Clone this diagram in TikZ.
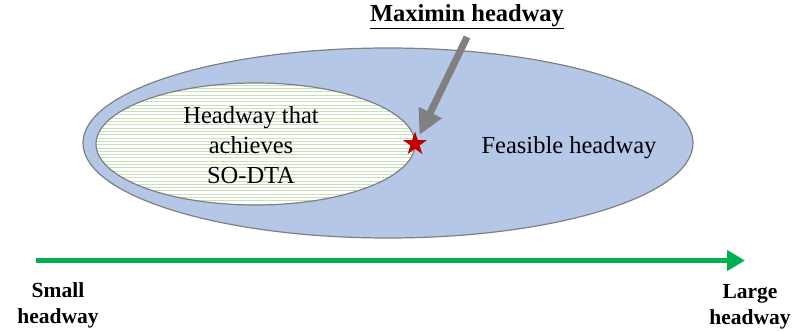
\documentclass[tikz,border=0pt]{standalone}
\usepackage{fontspec}
\setmainfont{Liberation Serif}
\usetikzlibrary{arrows.meta,shapes.geometric}

\definecolor{feasblue}{RGB}{180,199,231}
\definecolor{rimgray}{RGB}{128,128,128}
\definecolor{hatchgreen}{RGB}{200,226,184}
\definecolor{axisgreen}{RGB}{0,176,80}
\definecolor{starred}{RGB}{192,0,0}

\begin{document}
\begin{tikzpicture}[x=1pt,y=1pt]

\tikzset{region/.style = {draw=rimgray,line width=1.2pt}}
\tikzset{hatch/.style = {draw=hatchgreen,line width=0.8pt}}
\tikzset{lbl/.style = {font=\fontsize{24.5}{30}\selectfont,align=center,inner sep=0pt}}
\tikzset{endlbl/.style = {font=\bfseries\fontsize{21.5}{26}\selectfont,align=center,inner sep=0pt}}
\tikzset{ptr/.style = {-{Triangle[length=25pt,width=24pt]},line width=7pt,draw=rimgray}}
\tikzset{axis/.style = {-{Triangle[length=18pt,width=20pt]},line width=5pt,draw=axisgreen}}
\useasboundingbox (0,0) rectangle (793,330);

% regions
\path[region,fill=feasblue] (388,187) ellipse [x radius=305,y radius=95];
\fill[white] (255.5,186) ellipse [x radius=159.5,y radius=61];
\begin{scope}
\clip (255.5,186) ellipse [x radius=159.5,y radius=61];
\foreach \y in {126,129.3,...,248}
  \draw[hatch] (90,\y) -- (420,\y);
\end{scope}
\draw[region] (255.5,186) ellipse [x radius=159.5,y radius=61];

% labels
\node[lbl] (soset) at (251,185) {Headway that\\achieves\\SO-DTA};
\node[lbl] (feas) at (569,182) {Feasible headway};
\node[lbl,font=\bfseries\fontsize{24.5}{30}\selectfont] (maximin) at (467,313) {\underline{Maximin headway}};
\node[star,star points=5,star point ratio=2.6,minimum size=25pt,inner sep=0pt,fill=starred] (star) at (415,186) {};
\coordinate (ptrtail) at (467,293);

\node[endlbl] (small) at (58,25) {Small\\headway};
\node[endlbl] (large) at (750,23) {Large\\headway};
\coordinate (axisstart) at (36,69.5);
\coordinate (axisend) at (745,69.5);

% arrows
\draw[ptr,shorten >=10pt] (ptrtail) -- (star.center);
\draw[axis] (axisstart) -- (axisend);

\end{tikzpicture}
\end{document}
